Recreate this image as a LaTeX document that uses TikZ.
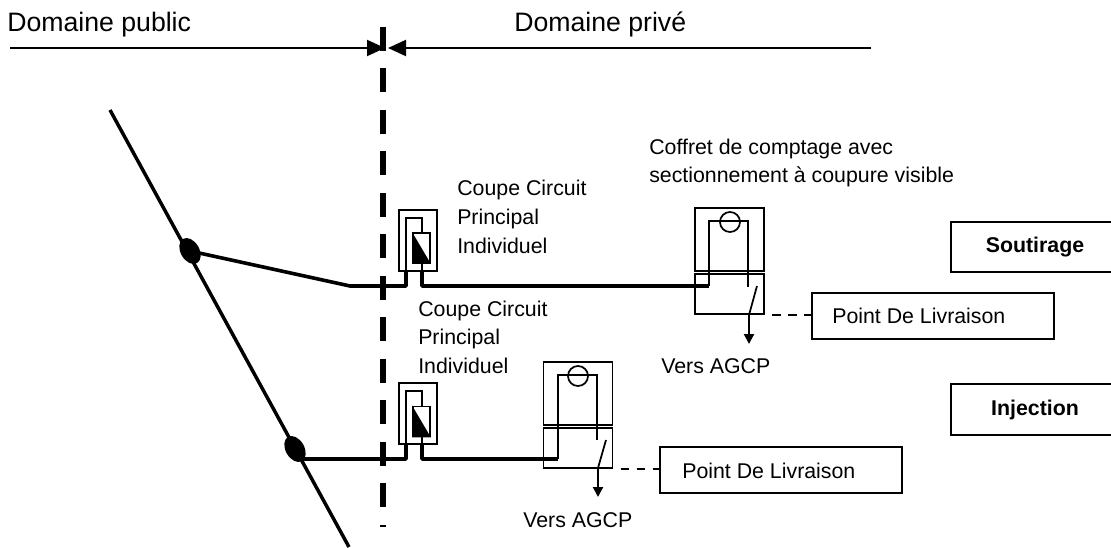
\documentclass[tikz,border=0pt]{standalone}
\usepackage{fontspec}
\setmainfont{Liberation Sans}
\usetikzlibrary{shapes.geometric,arrows.meta}
\tikzset{
  x=0.75pt,y=-0.75pt,
  thinl/.style={line width=1.3pt},
  wire/.style={line width=1.3pt,line join=miter},
  heavy/.style={line width=2.7pt,line join=round},
  feeder/.style={line width=2.6pt},
  lbl/.style={inner sep=0pt,anchor=base west,font=\fontsize{16}{18}\selectfont},
  head/.style={inner sep=0pt,anchor=base west,font=\fontsize{20}{22}\selectfont},
  cbox/.style={draw,thinl,fill=white,inner sep=0pt},
  infobox/.style={draw,thinl,inner sep=0pt,minimum width=126pt,minimum height=37.5pt,font=\bfseries\fontsize{16}{18}\selectfont},
  pdlbox/.style={draw,thinl,inner sep=0pt,minimum width=181.5pt,minimum height=34.5pt},
  fuse/.style={draw,thinl,inner sep=0pt,minimum width=12.75pt,minimum height=22.5pt},
  meter/.style={draw,thinl,circle,inner sep=0pt,minimum size=15pt},
  blob/.style={ellipse,fill=black,inner sep=0pt,minimum width=21pt,minimum height=14pt},
  tip/.style={-{Triangle[length=13.5pt,width=12pt]},line width=1.5pt},
  dn/.style={-{Triangle[length=7.5pt,width=7.5pt]},line width=1.5pt},
  fence/.style={line width=4.4pt,dash pattern=on 18pt off 13.1pt},
  dashl/.style={thinl,dash pattern=on 6.5pt off 5.5pt,dash phase=6.5pt},
}
\begin{document}
\begin{tikzpicture}
\useasboundingbox (0,0) rectangle (1111,547);
% boundary
\coordinate (fenceA) at (383,27);
\coordinate (fenceB) at (383,507);
\draw[fence] (fenceA) -- (fenceB);
\coordinate (stubA) at (380,526);
\coordinate (stubB) at (386,526);
\draw[line width=1.2pt] (stubA) -- (stubB);
\coordinate (pubS) at (10,48);
\coordinate (pubE) at (385,48);
\coordinate (priS) at (871,48);
\coordinate (priE) at (388,48);
\draw[tip] (pubS) -- (pubE);
\draw[tip] (priS) -- (priE);
\node[head] (pub) at (7,31) {Domaine public};
\node[head] (pri) at (514,31) {Domaine privé};
% main feeder
\coordinate (feedA) at (110,110);
\coordinate (feedB) at (349,547);
\draw[feeder] (feedA) -- (feedB);
\node[blob,rotate=-60] (j1) at (190,251) {};
\node[blob,rotate=-60] (j2) at (295,449) {};
% CCPI 1
\node[cbox,minimum width=28.5pt,minimum height=45.75pt] (cc1) at (418,240.5) {};
\node[fuse] (f1) at (421.5,248) {};
\fill (f1.north west) -- (f1.south west) -- (f1.south east) -- cycle;
\coordinate (a1) at (406,271);
\coordinate (b1) at (422,271);
\coordinate (k1) at (350,286);
\draw[wire] (a1) |- (422,218) -- (f1.north -| b1);
\draw[wire] (f1.south -| b1) -- (b1);
% CCPI 2
\node[cbox,minimum width=28.5pt,minimum height=45.75pt] (cc2) at (418,413.5) {};
\node[fuse] (f2) at (421.5,421.5) {};
\fill (f2.north west) -- (f2.south west) -- (f2.south east) -- cycle;
\coordinate (a2) at (406,444);
\coordinate (b2) at (422,444);
\draw[wire] (a2) |- (422,391) -- (f2.north -| b2);
\draw[wire] (f2.south -| b2) -- (b2);
% Coffret 1
\node[cbox,minimum width=51.75pt,minimum height=47.25pt] (up1) at (729.5,239.5) {};
\node[cbox,minimum width=51.75pt,minimum height=30pt] (lo1) at (729.5,294) {};
\coordinate (l1) at (709,286);
\coordinate (r1) at (748,287);
\draw[wire] (l1) |- (r1 |- 0,221) -- (r1);
\node[meter] (m1) at (730,222) {};
\coordinate (s1a) at (757,286);
\coordinate (s1b) at (749,315);
\coordinate (v1) at (749,344);
\draw[wire] (s1a) -- (s1b);
\draw[dn] (s1b) -- (v1);
% Coffret 2
\node[cbox,minimum width=51.75pt,minimum height=47.25pt] (up2) at (578,393.5) {};
\node[cbox,minimum width=51.75pt,minimum height=30pt] (lo2) at (578,448) {};
\coordinate (l2) at (558,459);
\coordinate (r2) at (597,440);
\draw[wire] (l2) |- (r2 |- 0,375) -- (r2);
\node[meter] (m2) at (578,376) {};
\coordinate (s2a) at (606,440);
\coordinate (s2b) at (598,468);
\coordinate (v2) at (598,497);
\draw[wire] (s2a) -- (s2b);
\draw[dn] (s2b) -- (v2);
% heavy connections
\coordinate (j2o) at (300,459);
\draw[heavy] (j1.center) -- (k1) -- (a1 |- k1) -- (a1);
\draw[heavy] (b1) -- (b1 |- k1) -- (l1);
\draw[heavy] (j2o) -- (a2 |- j2o) -- (a2);
\draw[heavy] (b2) -- (b2 |- l2) -- (l2);
% delivery points
\node[pdlbox] (pdl1) at (933,316) {};
\node[lbl] (pdl1t) at (832,323) {Point De Livraison};
\node[pdlbox] (pdl2) at (781,470) {};
\node[lbl] (pdl2t) at (682,478) {Point De Livraison};
\draw[dashl] (lo1.south east) -- (lo1.south east -| pdl1.west);
\draw[dashl] (lo2.south east) -- (lo2.south east -| pdl2.west);
\node[infobox] (sout) at (1035,247) {Soutirage};
\node[infobox,minimum height=38.25pt] (inj) at (1035,409.5) {Injection};
% labels
\node[lbl] (t1) at (649,154) {Coffret de comptage avec};
\node[lbl] (t2) at (649,182) {sectionnement à coupure visible};
\node[lbl] (t3) at (457,195) {Coupe Circuit};
\node[lbl] (t4) at (457,224) {Principal};
\node[lbl] (t5) at (457,253) {Individuel};
\node[lbl] (t6) at (418,316) {Coupe Circuit};
\node[lbl] (t7) at (418,344) {Principal};
\node[lbl] (t8) at (418,373) {Individuel};
\node[lbl] (t9) at (661,373) {Vers AGCP};
\node[lbl] (t10) at (523,527) {Vers AGCP};
\end{tikzpicture}
\end{document}
